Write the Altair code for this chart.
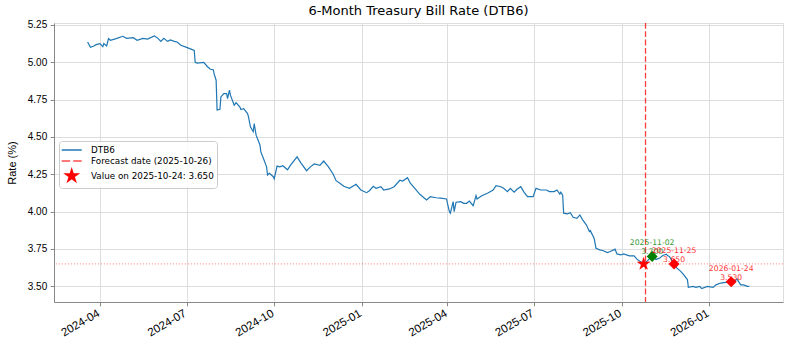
import altair as alt
import pandas as pd

# ---------------- data ----------------
dates = [
    "2024-03-19", "2024-03-22", "2024-03-25", "2024-03-28", "2024-04-01", "2024-04-04", "2024-04-05",
    "2024-04-08", "2024-04-10", "2024-04-12", "2024-04-18", "2024-04-25", "2024-04-29", "2024-05-06",
    "2024-05-10", "2024-05-16", "2024-05-21", "2024-05-28", "2024-05-31", "2024-06-04", "2024-06-07",
    "2024-06-11", "2024-06-14", "2024-06-18", "2024-06-21", "2024-06-25", "2024-07-01", "2024-07-05",
    "2024-07-09", "2024-07-10", "2024-07-12", "2024-07-19", "2024-07-23", "2024-07-26", "2024-07-29",
    "2024-07-30", "2024-08-01", "2024-08-02", "2024-08-05", "2024-08-06", "2024-08-09", "2024-08-12",
    "2024-08-13", "2024-08-15", "2024-08-16", "2024-08-20", "2024-08-22", "2024-08-26", "2024-08-27",
    "2024-08-30", "2024-09-03", "2024-09-04", "2024-09-06", "2024-09-09", "2024-09-10", "2024-09-12",
    "2024-09-16", "2024-09-17", "2024-09-19", "2024-09-23", "2024-09-24", "2024-09-26", "2024-09-30",
    "2024-10-01", "2024-10-04", "2024-10-07", "2024-10-10", "2024-10-15", "2024-10-18", "2024-10-25",
    "2024-10-29", "2024-11-04", "2024-11-08", "2024-11-12", "2024-11-18", "2024-11-22", "2024-11-27",
    "2024-12-02", "2024-12-05", "2024-12-09", "2024-12-13", "2024-12-19", "2024-12-26", "2024-12-31",
    "2025-01-06", "2025-01-09", "2025-01-13", "2025-01-16", "2025-01-21", "2025-01-24", "2025-01-30",
    "2025-02-04", "2025-02-10", "2025-02-13", "2025-02-18", "2025-02-21", "2025-02-27", "2025-03-03",
    "2025-03-06", "2025-03-10", "2025-03-14", "2025-03-20", "2025-03-25", "2025-03-31", "2025-04-01",
    "2025-04-03", "2025-04-04", "2025-04-07", "2025-04-08", "2025-04-10", "2025-04-15", "2025-04-18",
    "2025-04-21", "2025-04-24", "2025-04-28", "2025-05-01", "2025-05-02", "2025-05-07", "2025-05-13",
    "2025-05-19", "2025-05-22", "2025-05-27", "2025-05-30", "2025-06-03", "2025-06-06", "2025-06-10",
    "2025-06-13", "2025-06-17", "2025-06-20", "2025-06-24", "2025-06-30", "2025-07-03", "2025-07-08",
    "2025-07-14", "2025-07-17", "2025-07-22", "2025-07-25", "2025-07-28", "2025-07-29", "2025-07-31",
    "2025-08-01", "2025-08-05", "2025-08-08", "2025-08-11", "2025-08-15", "2025-08-18", "2025-08-21",
    "2025-08-25", "2025-08-28", "2025-08-29", "2025-09-02", "2025-09-04", "2025-09-08", "2025-09-11",
    "2025-09-16", "2025-09-19", "2025-09-24", "2025-09-26", "2025-09-30", "2025-10-03", "2025-10-09",
    "2025-10-14", "2025-10-17", "2025-10-22", "2025-10-24", "2025-10-28", "2025-10-31", "2025-11-03",
    "2025-11-06", "2025-11-10", "2025-11-13", "2025-11-17", "2025-11-18", "2025-11-20", "2025-11-25",
    "2025-11-28", "2025-12-02", "2025-12-05", "2025-12-09", "2025-12-10", "2025-12-15", "2025-12-18",
    "2025-12-22", "2025-12-24", "2025-12-30", "2026-01-05", "2026-01-08", "2026-01-13", "2026-01-22",
    "2026-01-27", "2026-01-30", "2026-02-03", "2026-02-06", "2026-02-10", "2026-02-12",
]
rates = [
    5.136, 5.100, 5.107, 5.118, 5.125, 5.105, 5.125,
    5.110, 5.158, 5.147, 5.158, 5.174, 5.160, 5.165,
    5.147, 5.160, 5.155, 5.177, 5.165, 5.140, 5.160,
    5.140, 5.150, 5.140, 5.136, 5.114, 5.100, 5.090,
    5.080, 5.000, 4.995, 5.000, 4.970, 4.953, 4.950,
    4.920, 4.880, 4.680, 4.685, 4.768, 4.790, 4.790,
    4.757, 4.813, 4.780, 4.713, 4.730, 4.700, 4.684,
    4.690, 4.657, 4.635, 4.568, 4.535, 4.590, 4.512,
    4.446, 4.400, 4.367, 4.300, 4.245, 4.256, 4.234,
    4.220, 4.305, 4.300, 4.307, 4.280, 4.310, 4.367,
    4.327, 4.274, 4.300, 4.319, 4.310, 4.339, 4.300,
    4.250, 4.207, 4.190, 4.170, 4.156, 4.183, 4.145,
    4.127, 4.140, 4.170, 4.156, 4.167, 4.145, 4.152,
    4.167, 4.210, 4.205, 4.227, 4.190, 4.145, 4.116,
    4.100, 4.078, 4.100, 4.093, 4.090, 4.085, 4.056,
    4.000, 3.990, 4.067, 4.000, 4.063, 4.067, 4.056,
    4.056, 4.071, 4.040, 4.107, 4.085, 4.107, 4.123,
    4.145, 4.174, 4.167, 4.156, 4.134, 4.156, 4.130,
    4.150, 4.167, 4.134, 4.100, 4.100, 4.156, 4.145,
    4.145, 4.134, 4.134, 4.145, 4.118, 4.130, 4.110,
    3.990, 3.985, 3.993, 3.962, 3.955, 3.978, 3.945,
    3.910, 3.867, 3.873, 3.822, 3.755, 3.744, 3.740,
    3.726, 3.733, 3.749, 3.717, 3.710, 3.717, 3.704,
    3.704, 3.682, 3.660, 3.650, 3.670, 3.690, 3.700,
    3.680, 3.689, 3.706, 3.715, 3.706, 3.700, 3.650,
    3.622, 3.600, 3.578, 3.545, 3.493, 3.500, 3.493,
    3.500, 3.485, 3.500, 3.493, 3.510, 3.522, 3.530,
    3.526, 3.550, 3.510, 3.510, 3.500, 3.500,
]

forecast_date = ["2025-10-26"]
last_date = ["2025-10-24"]
last_value = [3.650]

horizon_dates = ["2025-11-02", "2025-11-25", "2026-01-24"]
horizon_values = [3.700, 3.650, 3.530]
horizon_kind = ["near", "far", "far"]

legend_labels = ["DTB6", "Forecast date (2025-10-26)", "Value on 2025-10-24: 3.650"]

y_ticks = [3.50, 3.75, 4.00, 4.25, 4.50, 4.75, 5.00, 5.25]
x_ticks = [(2024, 4), (2024, 7), (2024, 10), (2025, 1), (2025, 4), (2025, 7), (2025, 10), (2026, 1)]

# ---------------- frames ----------------
series_df = pd.DataFrame({"date": dates, "rate": rates})
fc_df = pd.DataFrame({"date": forecast_date})
hl_df = pd.DataFrame({"rate": last_value})
star_df = pd.DataFrame({"date": last_date, "rate": last_value, "label": [legend_labels[2]]})
hz_df = pd.DataFrame({
    "date": horizon_dates,
    "rate": horizon_values,
    "kind": horizon_kind,
    "txt": [f"{d}\n{v:.3f}" for d, v in zip(horizon_dates, horizon_values)],
})

FONT = "DejaVu Sans"

x_scale = alt.Scale(
    type="utc",
    domain=[alt.DateTime(year=2024, month=2, date=12, hours=17, utc=True),
            alt.DateTime(year=2026, month=3, date=19, hours=10, utc=True)],
)
y_scale = alt.Scale(domain=[3.395, 5.263], zero=False, nice=False)

x_axis = alt.Axis(
    values=[alt.DateTime(year=y, month=m, date=1, utc=True) for y, m in x_ticks],
    format="%Y-%m", labelAngle=330, labelAlign="right", labelBaseline="top",
    title=None, labelPadding=1.5, labelOffset=-4.5, tickSize=3.8, grid=True, labelOverlap=False,
    labelFontSize=11.5,
)
y_axis = alt.Axis(
    values=y_ticks, format=".2f", title="Rate (%)", tickSize=3.8, labelPadding=3.5,
    grid=True, titlePadding=10, labelOverlap=False, titleFontWeight="normal",
)

X = alt.X("date:T", scale=x_scale, axis=x_axis)
Y = alt.Y("rate:Q", scale=y_scale, axis=y_axis)

line = alt.Chart(series_df).mark_line(color="#1f77b4", strokeWidth=1.2).encode(x=X, y=Y)

hline = alt.Chart(hl_df).mark_rule(color="red", opacity=0.35, strokeWidth=1.1, strokeDash=[1.2, 1.8]).encode(
    y=Y
)

vrule = alt.Chart(fc_df).mark_rule(color="red", opacity=0.75, strokeWidth=1.3, strokeDash=[5.8, 2.5]).encode(
    x=X
)

line_path = "M-2,0L2,0"
dash_path = "M-2,0L-0.3,0M0.3,0L2,0"
star_path = ("M0,-1.3L0.29,-0.4L1.236,-0.402L0.47,0.153L0.764,1.052L0,0.494"
             "L-0.764,1.052L-0.47,0.153L-1.236,-0.402L-0.29,-0.4Z")

leg = alt.Legend(
    title=None, orient="none", legendX=5, legendY=118, padding=3,
    fillColor="rgba(255,255,255,0.85)", strokeColor="#cccccc", cornerRadius=3,
    labelFont=FONT, labelFontSize=8.8, labelColor="black", labelOffset=13.3,
    symbolSize=100, symbolOffset=3.7, rowPadding=0, symbolStrokeWidth=1.5,
    labelLimit=300,
)
leg_colors = ["#1f77b4", "#ff4d4d", "red"]
star = alt.Chart(star_df).mark_point(filled=True, size=100, opacity=1, strokeWidth=0.5).encode(
    x=X,
    y=Y,
    shape=alt.Shape("label:N", scale=alt.Scale(domain=legend_labels, range=[line_path, dash_path, star_path]), legend=leg),
    fill=alt.Fill("label:N", scale=alt.Scale(domain=legend_labels, range=leg_colors), legend=leg),
    stroke=alt.Stroke("label:N", scale=alt.Scale(domain=legend_labels, range=leg_colors), legend=leg),
)

kind_scale = alt.Scale(domain=["near", "far"], range=["green", "red"])
diamonds = alt.Chart(hz_df).mark_point(shape="diamond", filled=True, size=120, opacity=1).encode(
    x=X,
    y=Y,
    color=alt.Color("kind:N", scale=kind_scale, legend=None),
)
labels = alt.Chart(hz_df).mark_text(
    font=FONT, fontSize=7.7, lineBreak="\n", baseline="bottom", align="center", dy=-9, opacity=0.8,
    lineHeight=8.8,
).encode(
    x=X,
    y=Y,
    text="txt:N",
    color=alt.Color("kind:N", scale=kind_scale, legend=None),
)

chart = alt.layer(line, hline, vrule, star, diamonds, labels).properties(
    width=729, height=279,
    autosize=alt.AutoSizeParams(type="none"),
    padding={"left": 54, "top": 23, "right": 7, "bottom": 45},
    title=alt.TitleParams("6-Month Treasury Bill Rate (DTB6)", font=FONT, fontSize=13, fontWeight="normal",
                          anchor="middle", offset=1.5, color="black"),
).configure_view(
    stroke="black", strokeWidth=0.9,
).configure_axis(
    labelFont=FONT, labelFontSize=10.9, labelColor="black", titleFont=FONT, titleFontSize=10.9,
    titleFontWeight="normal", titleColor="black", domainColor="black", domainWidth=0.9,
    tickColor="black", tickWidth=0.9, gridColor="#efefef", gridOpacity=1, gridWidth=0.8,
).configure(background="white")

chart.save("out.html", embed_options={"renderer": "svg", "actions": False})
